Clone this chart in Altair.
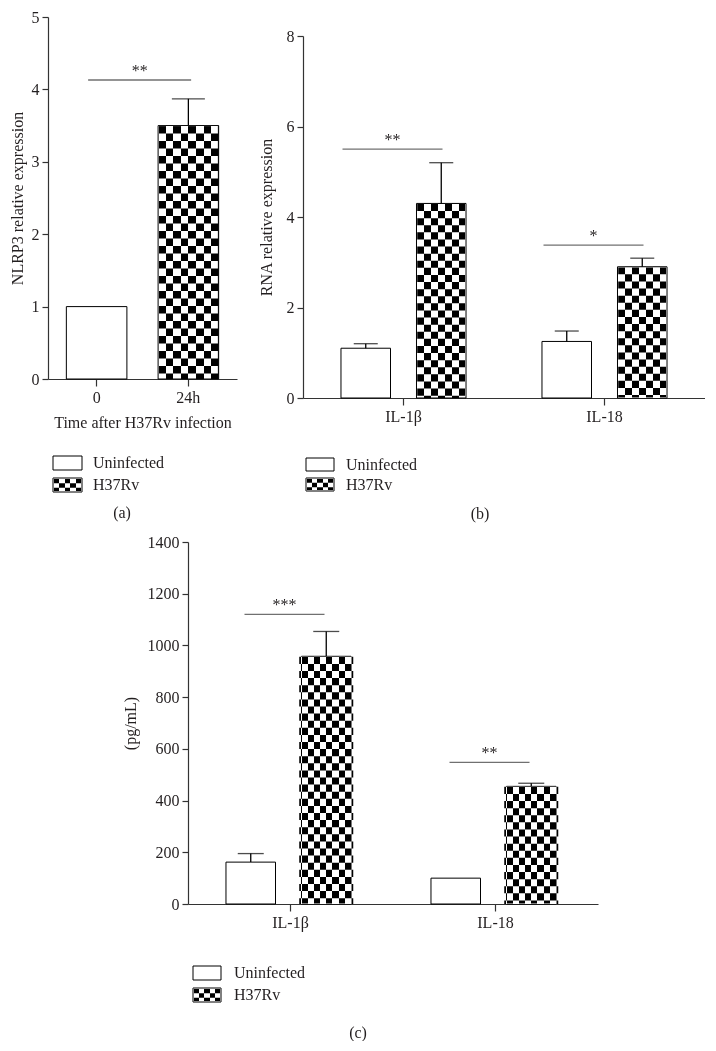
import altair as alt
import pandas as pd

# ---------------- data ----------------
legend_labels = ["Uninfected", "H37Rv"]

# (a) NLRP3 expression
a_times = ["0", "24h"]
a_conds = ["Uninfected", "H37Rv"]
a_values = [1.0, 3.5]
a_errors = [0.0, 0.37]
a_sig_y = [4.13]
a_sig_labels = ["**"]

# (b) RNA relative expression
genes = ["IL-1β", "IL-18"]
b_uninf = [1.1, 1.25]
b_uninf_err = [0.1, 0.23]
b_h37 = [4.3, 2.9]
b_h37_err = [0.9, 0.19]
b_sig_y = [5.5, 3.38]
b_sig_labels = ["**", "*"]

# (c) cytokine secretion (pg/mL)
c_uninf = [162, 100]
c_uninf_err = [33, 0]
c_h37 = [958, 455]
c_h37_err = [96, 12]
c_sig_y = [1120, 548]
c_sig_labels = ["***", "**"]

FONT = "Liberation Serif"
INK = "#231f20"


def stripes(n):
    stops = []
    for i in range(n):
        col = "white" if i % 2 == 0 else "black"
        stops.append({"offset": i / n, "color": col})
        stops.append({"offset": (i + 1) / n, "color": col})
    return {"gradient": "linear", "x1": 0, "y1": 0, "x2": 1, "y2": 0, "stops": stops}


def grouped_df(uninf, uerr, h37, herr):
    rows = []
    for g, v, e in zip(genes, uninf, uerr):
        rows.append({"gene": g, "cond": "Uninfected", "value": v, "err": e, "top": v + e})
    for g, v, e in zip(genes, h37, herr):
        rows.append({"gene": g, "cond": "H37Rv", "value": v, "err": e, "top": v + e})
    return pd.DataFrame(rows)


def legend_layers(x0, y0, y1, w, h, tx, cols, rows):
    one = pd.DataFrame({"label": legend_labels})
    base = alt.Chart(one)
    uninf = base.transform_filter(alt.datum.label == "Uninfected")
    h37 = base.transform_filter(alt.datum.label == "H37Rv")
    cell = h / rows
    return [
        uninf.mark_rect(fill="white", stroke="black", strokeWidth=1).encode(
            x=alt.value(x0), x2=alt.value(x0 + w), y=alt.value(y0), y2=alt.value(y0 + h)),
        h37.mark_rect(fill=stripes(cols), stroke="black", strokeWidth=1).encode(
            x=alt.value(x0), x2=alt.value(x0 + w), y=alt.value(y1), y2=alt.value(y1 + h)),
        h37.mark_rule(stroke="white", strokeWidth=w - 1, strokeDash=[cell, cell],
                      blend="difference").encode(
            x=alt.value(x0 + w / 2), y=alt.value(y1 + 0.5), y2=alt.value(y1 + h - 0.5)),
        uninf.mark_text(align="left", baseline="middle", font=FONT, fontSize=16, color=INK).encode(
            x=alt.value(tx), y=alt.value(y0 + h / 2), text="label:N"),
        h37.mark_text(align="left", baseline="middle", font=FONT, fontSize=16, color=INK).encode(
            x=alt.value(tx), y=alt.value(y1 + h / 2), text="label:N"),
    ]


def caption(text, x, y):
    return alt.Chart(pd.DataFrame({"t": [text]})).mark_text(
        font=FONT, fontSize=16, color=INK, baseline="middle").encode(
        x=alt.value(x), y=alt.value(y), text="t:N")


def y_axis(values, title, pad):
    return alt.Axis(values=values, format="d", title=title, grid=False, tickSize=6,
                    labelPadding=3, titlePadding=pad, domainColor="#333", tickColor="#333",
                    domainWidth=1.2, tickWidth=1.2, labelFont=FONT, labelFontSize=16,
                    labelColor=INK, titleFont=FONT, titleFontSize=16, titleColor=INK,
                    titleFontWeight="normal")


def x_axis(title=None):
    kw = dict(labelAngle=0, grid=False, tickSize=7, labelPadding=3, domainColor="#333",
              tickColor="#333", domainWidth=1.2, tickWidth=1.2, labelFont=FONT,
              labelFontSize=16, labelColor=INK, titleFont=FONT, titleFontSize=16,
              titleColor=INK, titleFontWeight="normal", titlePadding=9)
    if title:
        return alt.Axis(title=title, **kw)
    return alt.Axis(title=None, **kw)


# ---------------- panel (a) ----------------
a_df = pd.DataFrame({"time": a_times, "cond": a_conds, "value": a_values,
                     "err": a_errors, "top": [v + e for v, e in zip(a_values, a_errors)]})
A_W, A_H = 189, 362
a_x = alt.X("time:N", sort=a_times, scale=alt.Scale(paddingInner=0.34, paddingOuter=0.2),
            axis=x_axis("Time after H37Rv infection"))
a_y = alt.Y("value:Q", scale=alt.Scale(domain=[0, 5], nice=False),
            axis=y_axis([0, 1, 2, 3, 4, 5], "NLRP3 relative expression", 6))
a_base = alt.Chart(a_df)
a_layers = [
    a_base.transform_filter(alt.datum.cond == "Uninfected").mark_bar(
        fill="white", stroke="black", strokeWidth=1).encode(x=a_x, y=a_y, y2=alt.datum(0)),
    a_base.transform_filter(alt.datum.cond == "H37Rv").mark_bar(
        fill=stripes(8), stroke="black", strokeWidth=1).encode(x=a_x, y=a_y, y2=alt.datum(0)),
    a_base.transform_filter(alt.datum.cond == "H37Rv").mark_rule(
        stroke="white", strokeWidth=59, strokeDash=[7.5, 7.5], blend="difference",
        yOffset=0.5).encode(x=a_x, y=a_y, y2=alt.datum(0)),
    a_base.transform_filter(alt.datum.err > 0).mark_rule(stroke="black", strokeWidth=1.3).encode(
        x=a_x, y=a_y, y2="top:Q"),
    a_base.transform_filter(alt.datum.err > 0).mark_tick(
        orient="horizontal", size=33, thickness=1.3, color="black").encode(x=a_x, y="top:Q"),
]
a_sig = alt.Chart(pd.DataFrame({"time": ["0"], "y": a_sig_y, "lab": a_sig_labels}))
a_layers += [
    a_sig.mark_tick(orient="horizontal", size=103, thickness=1.3, color="#333",
                    xOffset=43).encode(x=a_x, y="y:Q"),
    a_sig.mark_text(font=FONT, fontSize=16, color=INK, dy=-4, baseline="alphabetic",
                    xOffset=43).encode(x=a_x, y="y:Q", text="lab:N"),
]
a_layers += legend_layers(5, 439, 461, 29, 14, 45, 5, 3)
a_layers.append(caption("(a)", 74, 496))
panel_a = alt.layer(*a_layers).properties(width=A_W, height=A_H)


# ---------------- grouped panels (b), (c) ----------------
def grouped_panel(df, W, H, domain, ticks, ytitle, ypad, pi, po, ncols, cell, bw, capw,
                  sig_y, sig_labels, sig_len, sig_shift, leg, cap_text, cap_pos):
    x = alt.X("gene:N", sort=genes, scale=alt.Scale(paddingInner=0, paddingOuter=0),
              axis=x_axis())
    xo = alt.XOffset("cond:N", sort=legend_labels,
                     scale=alt.Scale(domain=legend_labels, paddingInner=pi, paddingOuter=po))
    y = alt.Y("value:Q", scale=alt.Scale(domain=domain, nice=False),
              axis=y_axis(ticks, ytitle, ypad))
    base = alt.Chart(df)
    un = base.transform_filter(alt.datum.cond == "Uninfected")
    hh = base.transform_filter(alt.datum.cond == "H37Rv")
    ee = base.transform_filter(alt.datum.err > 0)
    layers = [
        un.mark_bar(fill="white", stroke="black", strokeWidth=1).encode(
            x=x, xOffset=xo, y=y, y2=alt.datum(0)),
        hh.mark_bar(fill=stripes(ncols), stroke="black", strokeWidth=1).encode(
            x=x, xOffset=xo, y=y, y2=alt.datum(0)),
        hh.mark_rule(stroke="white", strokeWidth=bw - 2, strokeDash=[cell, cell],
                     blend="difference", yOffset=0.5).encode(
            x=x, xOffset=xo, y=y, y2=alt.datum(0)),
        ee.mark_rule(stroke="black", strokeWidth=1.3).encode(x=x, xOffset=xo, y=y, y2="top:Q"),
        ee.mark_tick(orient="horizontal", size=capw, thickness=1.3, color="black").encode(
            x=x, xOffset=xo, y="top:Q"),
    ]
    sdf = alt.Chart(pd.DataFrame({"gene": genes, "y": sig_y, "lab": sig_labels}))
    layers += [
        sdf.mark_tick(orient="horizontal", size=sig_len, thickness=1.3, color="#333",
                      xOffset=sig_shift).encode(x=x, y="y:Q"),
        sdf.mark_text(font=FONT, fontSize=16, color=INK, dy=-4, baseline="alphabetic",
                      xOffset=sig_shift).encode(x=x, y="y:Q", text="lab:N"),
    ]
    layers += legend_layers(*leg)
    layers.append(caption(cap_text, *cap_pos))
    return alt.layer(*layers).properties(width=W, height=H)


b_df = grouped_df(b_uninf, b_uninf_err, b_h37, b_h37_err)
panel_b = grouped_panel(b_df, 402, 362, [0, 8], [0, 2, 4, 6, 8], "RNA relative expression", 12,
                        0.344, 0.503, 7, 7.1, 50, 24, b_sig_y, b_sig_labels, 100, -11,
                        (3, 422, 442, 28, 13, 43, 5, 3), "(b)", (177, 478))

c_df = grouped_df(c_uninf, c_uninf_err, c_h37, c_h37_err)
panel_c = grouped_panel(c_df, 410, 362, [0, 1400], list(range(0, 1401, 200)), "(pg/mL)", 9,
                        0.222, 0.535, 8, 7.1, 56, 26, c_sig_y, c_sig_labels, 80, -6,
                        (5, 424, 446, 28, 14, 46, 5, 3), "(c)", (170, 491))


def spacer(w, h):
    return alt.Chart(pd.DataFrame({"s": [0]})).mark_rect(opacity=0).encode(
        x=alt.value(0), y=alt.value(0)).properties(width=w, height=h)


right_col = alt.vconcat(spacer(1, 19), panel_b, spacing=0, bounds="flush")
row1 = alt.hconcat(panel_a, right_col, spacing=66, bounds="flush")
row2 = alt.hconcat(spacer(140, 1), panel_c, spacing=0, bounds="flush")

chart = alt.vconcat(row1, row2, spacing=12, bounds="full").properties(
    padding={"left": 1, "top": 1, "right": 0, "bottom": 0}, background="white"
).configure_view(strokeWidth=0, stroke="transparent")

chart.save("out.html", embed_options={"renderer": "svg", "actions": False})
